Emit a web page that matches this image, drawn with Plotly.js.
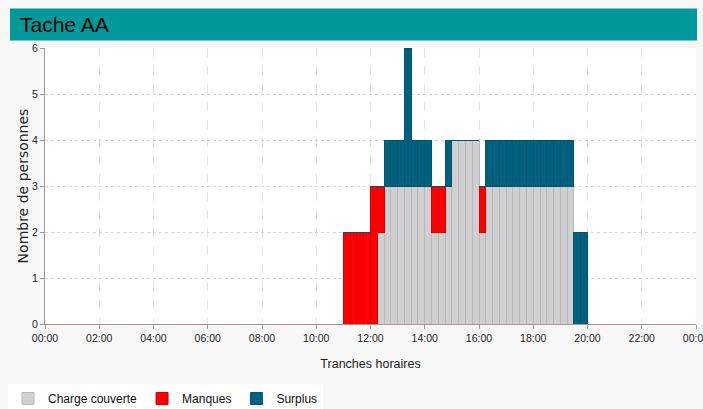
<!DOCTYPE html>
<html>
<head>
<meta charset="utf-8">
<script src="https://cdn.plot.ly/plotly-3.0.1.min.js"></script>
<style>
html,body{margin:0;padding:0;background:#f8f8f8;}
#chart{width:703px;height:409px;}
</style>
</head>
<body>
<div id="chart"></div>
<script>
// 96 quarter-hour slots, 00:00 .. 23:45
var slotLabels = [];
for (var h = 0; h < 24; h++) {
  for (var m = 0; m < 60; m += 15) {
    slotLabels.push((h < 10 ? '0' : '') + h + ':' + (m < 10 ? '0' : '') + m);
  }
}
// Charge couverte (grey)
var chargeCouverte = [
  0,0,0,0, 0,0,0,0, 0,0,0,0, 0,0,0,0,   // 00-04
  0,0,0,0, 0,0,0,0, 0,0,0,0, 0,0,0,0,   // 04-08
  0,0,0,0, 0,0,0,0, 0,0,0,0, 0,0,0,0,   // 08-12
  0,2,3,3, 3,3,3,3, 3,2,2,3, 4,4,4,4,   // 12-16
  2,3,3,3, 3,3,3,3, 3,3,3,3, 3,3,0,0,   // 16-20
  0,0,0,0, 0,0,0,0, 0,0,0,0, 0,0,0,0    // 20-24
];
// Manques (red)
var manques = [
  0,0,0,0, 0,0,0,0, 0,0,0,0, 0,0,0,0,
  0,0,0,0, 0,0,0,0, 0,0,0,0, 0,0,0,0,
  0,0,0,0, 0,0,0,0, 0,0,0,0, 2,2,2,2,
  3,1,0,0, 0,0,0,0, 0,1,1,0, 0,0,0,0,
  1,0,0,0, 0,0,0,0, 0,0,0,0, 0,0,0,0,
  0,0,0,0, 0,0,0,0, 0,0,0,0, 0,0,0,0
];
// Surplus (blue)
var surplus = [
  0,0,0,0, 0,0,0,0, 0,0,0,0, 0,0,0,0,
  0,0,0,0, 0,0,0,0, 0,0,0,0, 0,0,0,0,
  0,0,0,0, 0,0,0,0, 0,0,0,0, 0,0,0,0,
  0,0,1,1, 1,3,1,1, 1,0,0,1, 0,0,0,0,
  0,1,1,1, 1,1,1,1, 1,1,1,1, 1,1,2,2,
  0,0,0,0, 0,0,0,0, 0,0,0,0, 0,0,0,0
];
var tickVals = [0,2,4,6,8,10,12,14,16,18,20,22,24];
var tickLabels = ['00:00','02:00','04:00','06:00','08:00','10:00','12:00','14:00','16:00','18:00','20:00','22:00','00:00'];
var yTicks = [0,1,2,3,4,5,6];

function slotCenter(lbl){
  var p = lbl.split(':');
  return parseInt(p[0],10) + parseInt(p[1],10)/60 + 0.125;
}
var xs = slotLabels.map(slotCenter);

var sans = 'Liberation Sans, Arial, sans-serif';

var traces = [
  {type:'bar', name:'Charge couverte', x:xs, y:chargeCouverte, width:0.25,
   marker:{color:'#cfcfd1', line:{color:'#b9b9bb', width:1}}},
  {type:'bar', name:'Manques', x:xs, y:manques, width:0.25,
   marker:{color:'#ff0000', line:{color:'#d80000', width:1}}},
  {type:'bar', name:'Surplus', x:xs, y:surplus, width:0.25,
   marker:{color:'#00617f', line:{color:'#005570', width:1}}}
];

var layout = {
  width:703, height:409,
  paper_bgcolor:'#f8f8f8', plot_bgcolor:'#ffffff',
  barmode:'stack', bargap:0,
  margin:{l:45, r:7, t:48, b:85, autoexpand:false},
  showlegend:true,
  title:{text:'Tache AA', x:20/703, xanchor:'left', xref:'container',
         y:1-25/409, yanchor:'middle', yref:'container',
         font:{family:sans, size:21, color:'#000'}},
  shapes:[{type:'rect', xref:'paper', yref:'paper',
           x0:(10-45)/651, x1:(697-45)/651, y0:(324-40.5)/276, y1:(324-8.5)/276,
           fillcolor:'#009999', line:{width:0}, layer:'below'}],
  xaxis:{range:[0,24], tickmode:'array', tickvals:tickVals, ticktext:tickLabels,
         showline:true, linecolor:'#b09090', linewidth:1,
         ticks:'outside', ticklen:4, tickcolor:'#999',
         showgrid:true, gridcolor:'#e2e2e2', griddash:'dash', gridwidth:1,
         zeroline:false, fixedrange:true, ticklabeloverflow:'allow',
         tickfont:{family:sans, size:10.5, color:'#222'},
         title:{text:'Tranches horaires', standoff:16,
                font:{family:sans, size:12.5, color:'#222'}}},
  yaxis:{range:[0,6], tickmode:'array', tickvals:yTicks,
         showline:true, linecolor:'#999', linewidth:1,
         ticks:'outside', ticklen:4, tickcolor:'#999',
         showgrid:true, gridcolor:'#d4d4d4', griddash:'dot', gridwidth:1,
         zeroline:false, fixedrange:true,
         tickfont:{family:sans, size:10.5, color:'#222'},
         title:{text:'Nombre de personnes', standoff:0,
                font:{family:'DejaVu Sans, sans-serif', size:14, color:'#222'}}},
  legend:{orientation:'h', xref:'container', yref:'container',
          x:8/703, xanchor:'left', y:1-384/409, yanchor:'top',
          bgcolor:'#ffffff', font:{family:sans, size:12, color:'#111'},
          traceorder:'normal', itemwidth:30, tracegroupgap:0}
};

Plotly.newPlot('chart', traces, layout, {displayModeBar:false, staticPlot:true});
</script>
</body>
</html>
